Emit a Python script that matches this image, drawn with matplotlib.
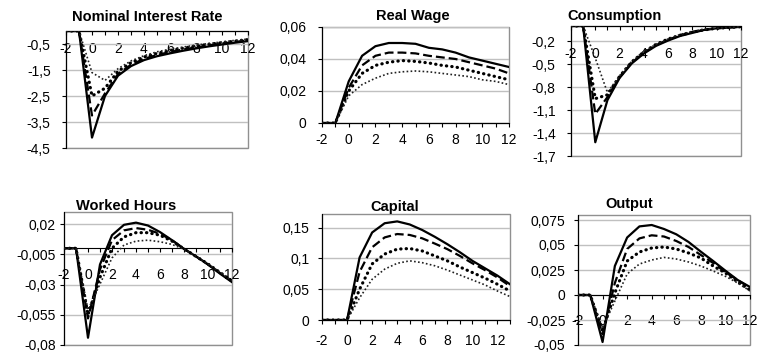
import matplotlib.pyplot as plt

plt.rcParams['font.family'] = ['Liberation Sans', 'DejaVu Sans']

# periods
x = list(range(-2, 13))
x_cap = list(range(-2, 14))

# Nominal Interest Rate
rate_a = [0, 0, -4.1, -2.5, -1.72, -1.35, -1.12, -0.97, -0.86, -0.76, -0.67, -0.59, -0.52, -0.45, -0.39]
rate_b = [0, 0, -3.25, -2.4, -1.65, -1.3, -1.07, -0.92, -0.81, -0.71, -0.63, -0.55, -0.48, -0.42, -0.36]
rate_c = [0, 0, -2.5, -2.2, -1.55, -1.22, -1.0, -0.86, -0.75, -0.66, -0.58, -0.51, -0.45, -0.39, -0.33]
rate_d = [0, 0, -1.6, -1.9, -1.45, -1.15, -0.95, -0.8, -0.7, -0.62, -0.54, -0.48, -0.42, -0.36, -0.31]

# Real Wage
wage_a = [0, 0, 0.026, 0.042, 0.048, 0.050, 0.050, 0.0495, 0.047, 0.046, 0.044, 0.041, 0.039, 0.037, 0.035]
wage_b = [0, 0, 0.022, 0.036, 0.042, 0.044, 0.044, 0.0435, 0.042, 0.041, 0.040, 0.038, 0.036, 0.034, 0.031]
wage_c = [0, 0, 0.020, 0.031, 0.036, 0.038, 0.039, 0.0385, 0.0375, 0.036, 0.035, 0.033, 0.031, 0.029, 0.027]
wage_d = [0, 0, 0.017, 0.024, 0.028, 0.031, 0.032, 0.0325, 0.032, 0.031, 0.030, 0.029, 0.027, 0.026, 0.024]

# Consumption
cons_a = [0, 0, -1.52, -0.97, -0.68, -0.49, -0.36, -0.26, -0.19, -0.13, -0.09, -0.05, -0.03, -0.02, -0.01]
cons_b = [0, 0, -1.15, -0.93, -0.67, -0.48, -0.35, -0.25, -0.18, -0.12, -0.08, -0.05, -0.03, -0.02, -0.01]
cons_c = [0, 0, -0.95, -0.9, -0.66, -0.47, -0.34, -0.24, -0.17, -0.12, -0.08, -0.05, -0.03, -0.02, -0.01]
cons_d = [0, 0, -0.42, -0.87, -0.65, -0.46, -0.33, -0.24, -0.17, -0.11, -0.07, -0.04, -0.03, -0.02, -0.01]

# Worked Hours
hours_a = [0, 0, -0.074, -0.0134, 0.0108, 0.0194, 0.0212, 0.0188, 0.0134, 0.0067, -0.0005, -0.0067, -0.0134, -0.021, -0.028]
hours_b = [0, 0, -0.058, -0.0175, 0.0067, 0.0148, 0.0167, 0.0153, 0.012, 0.0067, -0.0005, -0.0067, -0.0134, -0.0205, -0.0275]
hours_c = [0, 0, -0.055, -0.024, 0.0, 0.0094, 0.0129, 0.0129, 0.0108, 0.0059, -0.0005, -0.0067, -0.013, -0.020, -0.027]
hours_d = [0, 0, -0.051, -0.0296, -0.008, 0.0027, 0.0059, 0.0067, 0.0054, 0.0032, -0.0008, -0.0065, -0.0128, -0.0198, -0.0268]

# Capital (one period longer)
cap_a = [0, 0, 0, 0.1015, 0.142, 0.157, 0.160, 0.155, 0.146, 0.135, 0.123, 0.110, 0.096, 0.084, 0.072, 0.058]
cap_b = [0, 0, 0, 0.078, 0.118, 0.134, 0.1395, 0.138, 0.1325, 0.124, 0.115, 0.104, 0.092, 0.081, 0.069, 0.055]
cap_c = [0, 0, 0, 0.05, 0.091, 0.107, 0.115, 0.116, 0.112, 0.104, 0.096, 0.086, 0.077, 0.068, 0.058, 0.047]
cap_d = [0, 0, 0, 0.036, 0.066, 0.0825, 0.092, 0.096, 0.093, 0.088, 0.081, 0.073, 0.065, 0.057, 0.047, 0.038]

# Output
out_a = [0, 0, -0.047, 0.029, 0.0575, 0.0686, 0.070, 0.066, 0.0607, 0.053, 0.0433, 0.034, 0.0243, 0.015, 0.008]
out_b = [0, 0, -0.039, 0.012, 0.046, 0.0566, 0.0597, 0.0585, 0.054, 0.048, 0.040, 0.032, 0.0228, 0.0149, 0.007]
out_c = [0, 0, -0.036, 0.002, 0.034, 0.043, 0.047, 0.048, 0.046, 0.042, 0.037, 0.029, 0.022, 0.013, 0.005]
out_d = [0, 0, -0.033, -0.006, 0.021, 0.031, 0.035, 0.0376, 0.036, 0.033, 0.029, 0.024, 0.0187, 0.012, 0.004]

# y ticks of each panel
rate_ticks = [-4.5, -3.5, -2.5, -1.5, -0.5]
wage_ticks = [0, 0.02, 0.04, 0.06]
cons_ticks = [-1.7, -1.4, -1.1, -0.8, -0.5, -0.2]
hours_ticks = [-0.08, -0.055, -0.03, -0.005, 0.02]
cap_ticks = [0, 0.05, 0.1, 0.15]
out_ticks = [-0.05, -0.025, 0, 0.025, 0.05, 0.075]

W, H = 762, 356
fig = plt.figure(figsize=(W / 100, H / 100), dpi=100)


def panel(box, title, title_xy, xs, series, ylim, yticks, xpad, ypad):
    # box in pixels: left, right, top, bottom
    l, r, t, b = box
    ax = fig.add_axes([l / W, 1 - b / H, (r - l) / W, (b - t) / H])
    ax.set_axisbelow(True)
    a, bb, c, d = series
    ax.plot(xs, a, color='black', lw=1.6, zorder=3)
    ax.plot(xs, bb, color='black', lw=1.6, ls=(0, (4, 1.8)), zorder=3)
    ax.plot(xs, c, color='black', lw=2.3, ls=(0, (0.1, 1.6)),
            dash_capstyle='round', zorder=3)
    ax.plot(xs, d, color='#202020', lw=1.2, ls=(0, (1, 1.4)), zorder=3)

    ax.set_xlim(xs[0], xs[-1])
    ax.set_ylim(*ylim)
    ax.set_xticks(xs)
    ax.set_xticklabels([str(v) if v % 2 == 0 and v <= 12 else '' for v in xs])
    ax.set_yticks(yticks)
    ax.set_yticklabels([f"{v:g}".replace('.', ',') for v in yticks])
    ax.grid(axis='y', color='#c0c0c0', lw=1)

    ax.patch.set_edgecolor('#909090')
    ax.patch.set_linewidth(1)
    ax.spines['top'].set_visible(False)
    ax.spines['right'].set_visible(False)
    ax.spines['bottom'].set_position(('data', 0))
    ax.spines['bottom'].set_color('black')
    ax.spines['left'].set_color('black')
    ax.tick_params(axis='x', direction='out', length=3, width=0.8,
                   labelsize=10, pad=xpad, colors='black')
    ax.tick_params(axis='y', direction='out', length=3, width=0.8,
                   labelsize=10, pad=ypad, colors='black')
    fig.text(title_xy[0] / W, 1 - title_xy[1] / H, title, ha='center',
             va='center', fontsize=10.5, fontweight='bold')
    return ax


panel((66, 248, 31, 148), 'Nominal Interest Rate', (147, 17), x,
      (rate_a, rate_b, rate_c, rate_d), (-4.5, 0), rate_ticks, 5, 8)
panel((322, 509, 27, 123), 'Real Wage', (413, 16), x,
      (wage_a, wage_b, wage_c, wage_d), (0, 0.06), wage_ticks, 4, 8)
panel((571, 741, 26, 156), 'Consumption', (615, 16), x,
      (cons_a, cons_b, cons_c, cons_d), (-1.7, 0), cons_ticks, 12, 8)
panel((64, 232, 212, 345), 'Worked Hours', (126, 206), x,
      (hours_a, hours_b, hours_c, hours_d), (-0.08, 0.03), hours_ticks, 11, 3)
panel((322, 510, 214, 320), 'Capital', (395, 207), x_cap,
      (cap_a, cap_b, cap_c, cap_d), (0, 0.172), cap_ticks, 7, 6)
panel((578, 750, 215, 345), 'Output', (629, 204), x,
      (out_a, out_b, out_c, out_d), (-0.05, 0.08), out_ticks, 11, 6)

fig.savefig('out.png', dpi=100)
